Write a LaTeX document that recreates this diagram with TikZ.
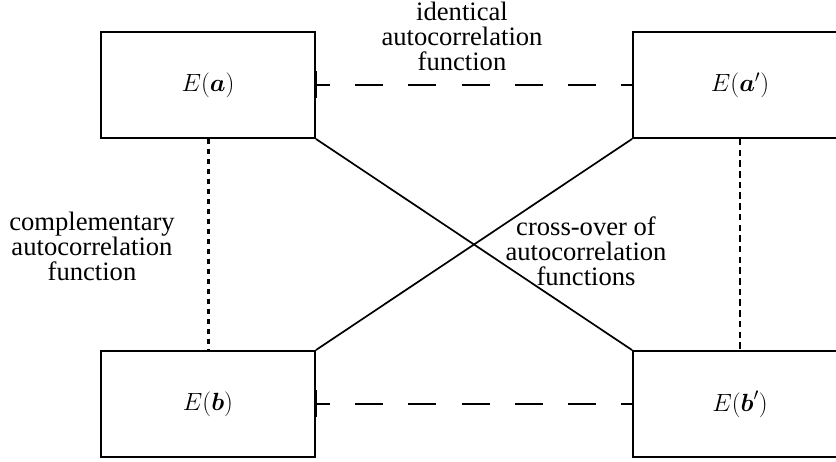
\documentclass[tikz,border=0pt]{standalone}
\usepackage{amsmath}
\usepackage[no-math]{fontspec}
\setmainfont{Liberation Serif}
\begin{document}
\begin{tikzpicture}[x=1pt,y=-1pt,
  box/.style={draw, line width=1.9pt, minimum width=214pt, minimum height=106pt, inner sep=0pt,
    font=\fontsize{27}{25.5}\selectfont},
  lbl/.style={align=center, inner sep=0pt, font=\fontsize{26.6}{25}\selectfont},
  longdash/.style={line width=2.9pt, dash pattern=on 28pt off 25.2pt, dash phase=14pt},
  thickdot/.style={line width=3pt, dash pattern=on 5pt off 5pt},
  thindot/.style={line width=2.3pt, dash pattern=on 6.5pt off 4.2pt},
  cross/.style={line width=1.7pt},
  endbar/.style={line width=3pt}]
\useasboundingbox (0,0) rectangle (836,462);
\clip (0,0) rectangle (836,462);
\node[box] (a)  at (208,85)  {$E(\boldsymbol{a})$};
\node[box] (ap) at (740,85)  {$E(\boldsymbol{a}')$};
\node[box] (b)  at (208,404) {$E(\boldsymbol{b})$};
\node[box] (bp) at (740,404) {$E(\boldsymbol{b}')$};
\draw[longdash] (a.east) -- (ap.west);
\draw[longdash] (b.east) -- (bp.west);
\draw[endbar] ([yshift=-13.5pt]a.east) -- ([yshift=13.5pt]a.east);
\draw[endbar] ([yshift=-13.5pt]b.east) -- ([yshift=13.5pt]b.east);
\draw[thickdot] (a.south) -- (b.north);
\draw[thindot] (ap.south) -- (bp.north);
\draw[cross] (a.south east) -- (bp.north west);
\draw[cross] (ap.south west) -- (b.north east);
\node[lbl] (l1) at (462,36) {identical\\autocorrelation\\function};
\node[lbl] (l2) at (92,246) {complementary\\autocorrelation\\function};
\node[lbl] (l3) at (586,251) {cross-over of\\autocorrelation\\functions};
\end{tikzpicture}
\end{document}
